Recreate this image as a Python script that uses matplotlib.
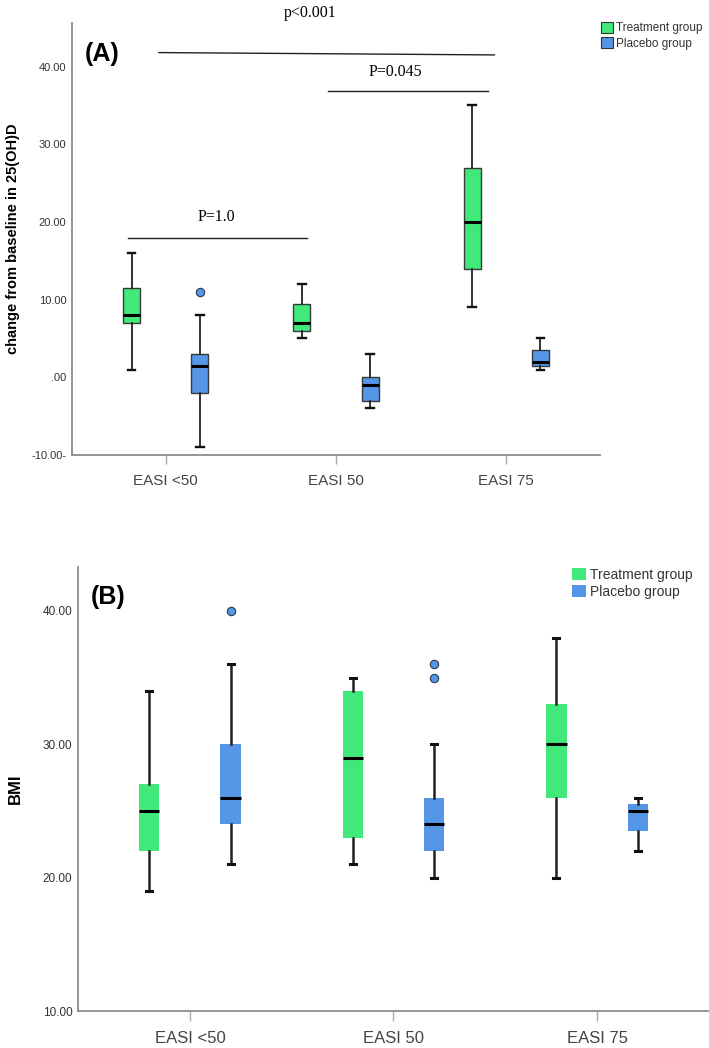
import numpy as np
import matplotlib
matplotlib.use("Agg")
import matplotlib.pyplot as plt
from matplotlib.patches import Patch

# ---- data -------------------------------------------------------------
categories = ["EASI <50", "EASI 50", "EASI 75"]
group_names = ["Treatment group", "Placebo group"]

# panel A: change from baseline in 25(OH)D
a_treat_whislo = [1, 5, 9]
a_treat_q1 = [7, 6, 14]
a_treat_med = [8, 7, 20]
a_treat_q3 = [11.5, 9.5, 27]
a_treat_whishi = [16, 12, 35]
a_treat_fliers = [[], [], []]

a_plac_whislo = [-9, -4, 1]
a_plac_q1 = [-2, -3, 1.5]
a_plac_med = [1.5, -1, 2]
a_plac_q3 = [3, 0, 3.5]
a_plac_whishi = [8, 3, 5]
a_plac_fliers = [[11], [], []]

# panel B: BMI
b_treat_whislo = [19, 21, 20]
b_treat_q1 = [22, 23, 26]
b_treat_med = [25, 29, 30]
b_treat_q3 = [27, 34, 33]
b_treat_whishi = [34, 35, 38]
b_treat_fliers = [[], [], []]

b_plac_whislo = [21, 20, 22]
b_plac_q1 = [24, 22, 23.5]
b_plac_med = [26, 24, 25]
b_plac_q3 = [30, 26, 25.5]
b_plac_whishi = [36, 30, 26]
b_plac_fliers = [[40], [35, 36], []]

a_ticks = [-10, 0, 10, 20, 30, 40]
a_ticklabels = ["-10.00-", ".00", "10.00", "20.00", "30.00", "40.00"]
b_ticks = [10, 20, 30, 40]
b_ticklabels = ["10.00", "20.00", "30.00", "40.00"]

# significance brackets of panel A (label, x0, x1, y0, y1, text x, text y)
sig_labels = ["p<0.001", "P=0.045", "P=1.0"]
sig_x0 = [-0.04, 0.95, -0.22]
sig_x1 = [1.93, 1.89, 0.83]
sig_y0 = [41.8, 36.9, 17.9]
sig_y1 = [41.5, 36.9, 17.9]
sig_tx = [0.85, 1.35, 0.30]
sig_ty = [46.9, 39.3, 20.6]

GREEN = "#40E97A"
BLUE = "#5596E6"
SANS = ["Liberation Sans", "DejaVu Sans"]
SERIF = ["Liberation Serif", "DejaVu Serif"]


def make_stats(whislo, q1, med, q3, whishi, fliers):
    return [
        {"whislo": lo, "q1": a, "med": m, "q3": b, "whishi": hi, "fliers": f}
        for lo, a, m, b, hi, f in zip(whislo, q1, med, q3, whishi, fliers)
    ]


def draw_boxes(ax, stats, positions, color, edge, edge_lw, whisk_lw, cap_w):
    ax.bxp(
        stats,
        positions=positions,
        widths=0.1,
        capwidths=cap_w,
        patch_artist=True,
        showfliers=True,
        boxprops=dict(facecolor=color, edgecolor=edge, linewidth=edge_lw),
        medianprops=dict(color="black", linewidth=2.2, solid_capstyle="butt"),
        whiskerprops=dict(color="#222222", linewidth=whisk_lw),
        capprops=dict(color="#111111", linewidth=whisk_lw + 0.4),
        flierprops=dict(marker="o", markerfacecolor=BLUE, markeredgecolor="#2a3a55",
                        markersize=6, markeredgewidth=0.8),
        manage_ticks=False,
    )


def style_axis(ax, ticks, ticklabels, tick_fs, cat_fs, tick_len):
    for side in ["top", "right"]:
        ax.spines[side].set_visible(False)
    for side in ["left", "bottom"]:
        ax.spines[side].set_color("#8c8c8c")
        ax.spines[side].set_linewidth(1.3)
    ax.set_yticks(ticks)
    ax.set_yticklabels(ticklabels, fontsize=tick_fs, color="#333333", family=SANS)
    ax.tick_params(axis="y", length=0, pad=4)
    ax.set_xticks(np.arange(len(categories)))
    ax.set_xticklabels(categories, fontsize=cat_fs, color="#444444", family=SANS)
    ax.tick_params(axis="x", length=tick_len, width=1, color="#aaaaaa", pad=7)
    ax.set_xlim(-0.55, 2.55)


fig = plt.figure(figsize=(7.09, 10.48), dpi=100)

# ---- panel A ----------------------------------------------------------
axA = fig.add_axes([0.1016, 0.5658, 0.7447, 0.4122])
x = np.arange(len(categories))
draw_boxes(axA, make_stats(a_treat_whislo, a_treat_q1, a_treat_med, a_treat_q3,
                           a_treat_whishi, a_treat_fliers),
           x - 0.2, GREEN, "#3a3a3a", 1.0, 1.3, 0.045)
draw_boxes(axA, make_stats(a_plac_whislo, a_plac_q1, a_plac_med, a_plac_q3,
                           a_plac_whishi, a_plac_fliers),
           x + 0.2, BLUE, "#3a3a3a", 1.0, 1.3, 0.045)
axA.set_ylim(-10, 45.6)
style_axis(axA, a_ticks, a_ticklabels, 8, 11, 6.5)
axA.set_ylabel("change from baseline in 25(OH)D", fontsize=10.5, fontweight="bold",
               family=SANS, labelpad=8)
axA.text(0.025, 0.955, "(A)", transform=axA.transAxes, fontsize=18, fontweight="bold",
         family=SANS, va="top", ha="left")

for lab, x0, x1, y0, y1, tx, ty in zip(sig_labels, sig_x0, sig_x1, sig_y0, sig_y1,
                                       sig_tx, sig_ty):
    axA.plot([x0, x1], [y0, y1], color="#222222", linewidth=1.0, clip_on=False)
    axA.text(tx, ty, lab, fontsize=11.5, family=SERIF, ha="center", va="center",
             clip_on=False)

legA = fig.legend(
    handles=[Patch(facecolor=GREEN, edgecolor="#333333", linewidth=0.8),
             Patch(facecolor=BLUE, edgecolor="#333333", linewidth=0.8)],
    labels=group_names, loc="upper left", bbox_to_anchor=(601 / 709, 1 - 22 / 1048),
    frameon=False, fontsize=8.5, handlelength=1.0, handleheight=1.0,
    handletextpad=0.3, labelspacing=0.25, borderpad=0, borderaxespad=0,
    prop={"family": SANS, "size": 8.5},
)
for t in legA.get_texts():
    t.set_color("#333333")

# ---- panel B ----------------------------------------------------------
axB = fig.add_axes([0.110, 0.0353, 0.890, 0.4237])
draw_boxes(axB, make_stats(b_treat_whislo, b_treat_q1, b_treat_med, b_treat_q3,
                           b_treat_whishi, b_treat_fliers),
           x - 0.2, GREEN, GREEN, 0.0, 1.8, 0.03)
draw_boxes(axB, make_stats(b_plac_whislo, b_plac_q1, b_plac_med, b_plac_q3,
                           b_plac_whishi, b_plac_fliers),
           x + 0.2, BLUE, BLUE, 0.0, 1.8, 0.03)
axB.set_ylim(10, 43.3)
style_axis(axB, b_ticks, b_ticklabels, 8.5, 12, 7.5)
axB.set_ylabel("BMI", fontsize=12, fontweight="bold", family=SANS, labelpad=14)
axB.text(0.02, 0.96, "(B)", transform=axB.transAxes, fontsize=18, fontweight="bold",
         family=SANS, va="top", ha="left")

legB = fig.legend(
    handles=[Patch(facecolor=GREEN, edgecolor="none"),
             Patch(facecolor=BLUE, edgecolor="none")],
    labels=group_names, loc="upper left", bbox_to_anchor=(572 / 709, 1 - 568 / 1048),
    frameon=False, handlelength=1.0, handleheight=0.9,
    handletextpad=0.3, labelspacing=0.2, borderpad=0, borderaxespad=0,
    prop={"family": SANS, "size": 10},
)
for t in legB.get_texts():
    t.set_color("#333333")

fig.savefig("out.png", dpi=100)
